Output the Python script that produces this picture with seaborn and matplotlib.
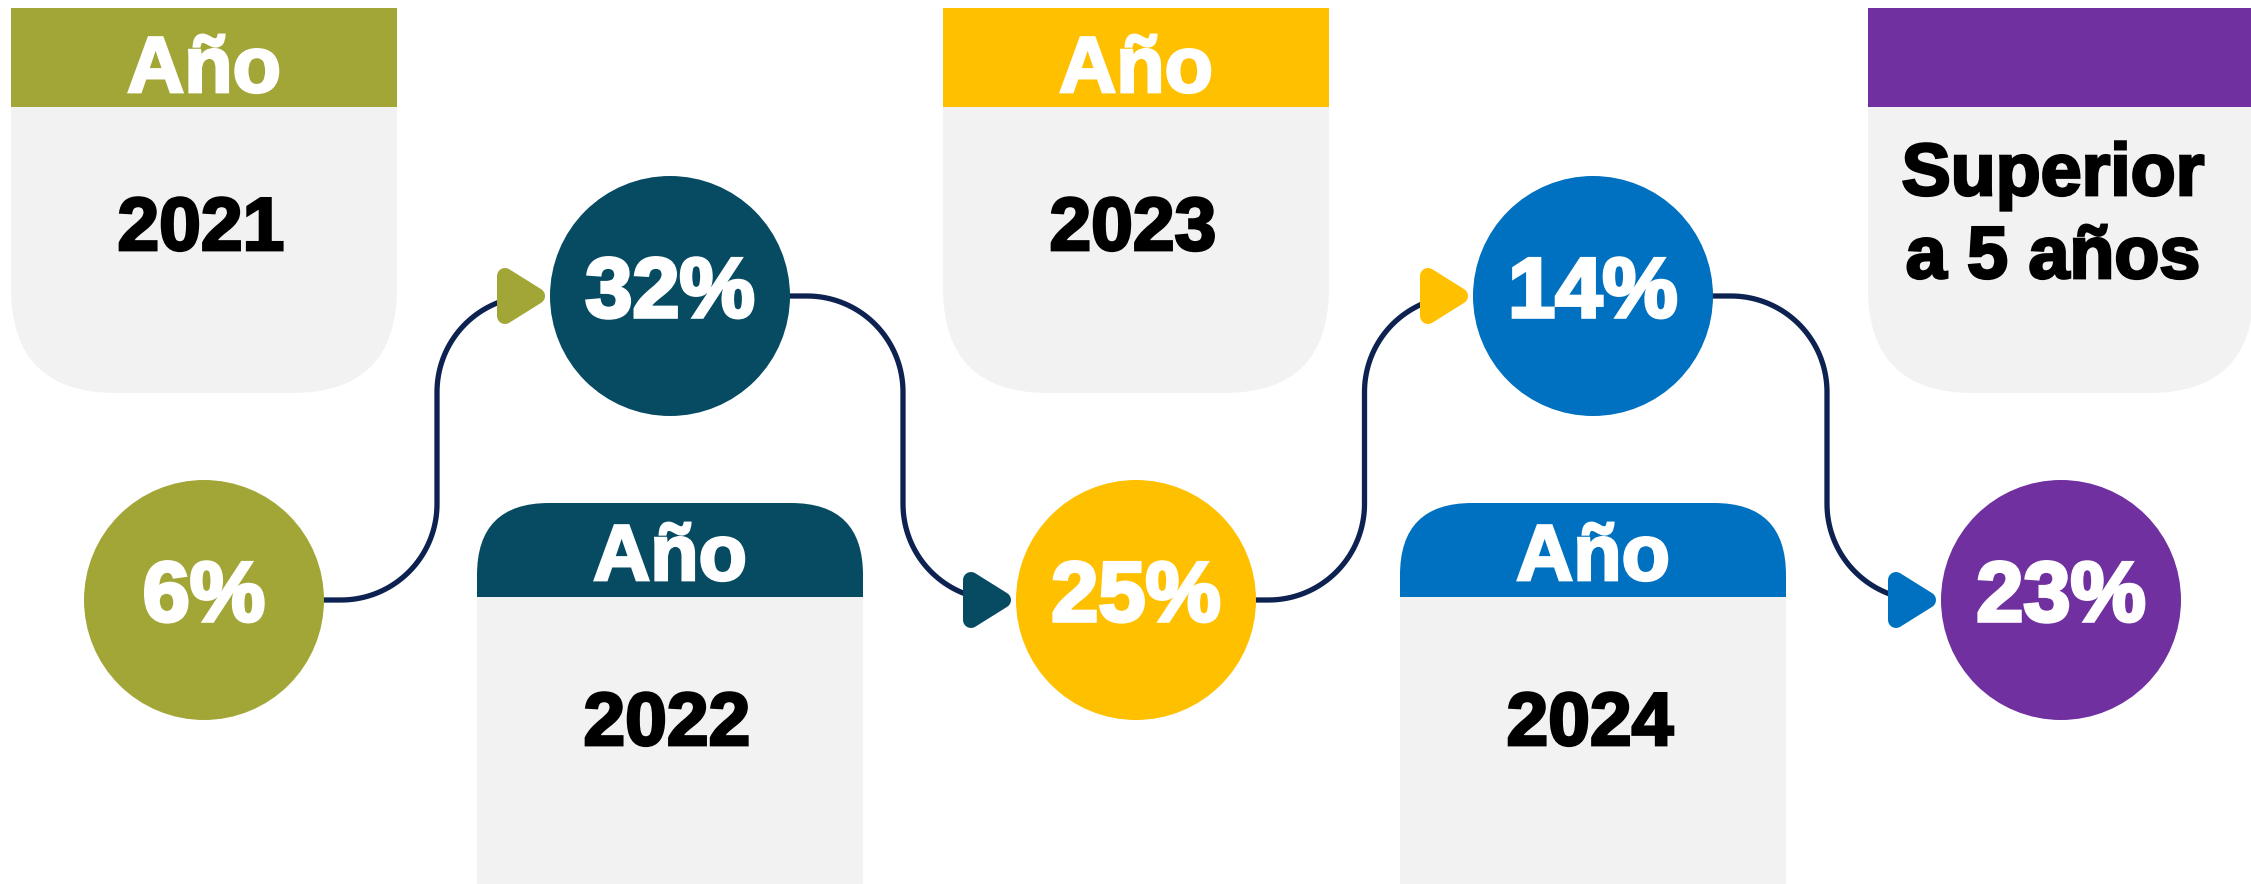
import numpy as np
import pandas as pd
import matplotlib
matplotlib.use("Agg")
import matplotlib.pyplot as plt
import matplotlib.patheffects as pe
from matplotlib.patches import FancyBboxPatch, Rectangle, Polygon
import seaborn as sns

# ---- data ----
percentages = [6, 32, 25, 14, 23]
periods = ["2021", "2022", "2023", "2024", "Superior\na 5 años"]
headers = ["Año", "Año", "Año", "Año", ""]
colors = ["#A2A637", "#074B63", "#FFC000", "#0070C0", "#7030A0"]

# ---- layout ----
W, H = 2251, 884
circle_x = [204, 670, 1136, 1593, 2061]
circle_y = [600, 296, 600, 296, 600]
R = 120
box_w = 386
line_col = "#0D2251"
gray = "#F2F2F2"
FONT = "Liberation Sans"

sns.set_theme(style="white")
plt.rcParams["font.family"] = [FONT, "DejaVu Sans"]

fig = plt.figure(figsize=(W / 100, H / 100), dpi=100)
ax = fig.add_axes([0, 0, 1, 1])
ax.set_xlim(0, W)
ax.set_ylim(H, 0)
ax.axis("off")

def heavy(lw, col):
    return [pe.withStroke(linewidth=lw, foreground=col, joinstyle="miter")]

def rounded_triangle(verts, rr, n=24):
    pts = []
    for vx, vy in verts:
        t = np.linspace(0, 2 * np.pi, n, endpoint=False)
        pts.extend(zip(vx + rr * np.cos(t), vy + rr * np.sin(t)))
    pts = sorted(set(pts))
    def cross(o, a, b):
        return (a[0] - o[0]) * (b[1] - o[1]) - (a[1] - o[1]) * (b[0] - o[0])
    lower, upper = [], []
    for p in pts:
        while len(lower) >= 2 and cross(lower[-2], lower[-1], p) <= 0:
            lower.pop()
        lower.append(p)
    for p in reversed(pts):
        while len(upper) >= 2 and cross(upper[-2], upper[-1], p) <= 0:
            upper.pop()
        upper.append(p)
    return lower[:-1] + upper[:-1]

# ---- boxes ----
for i, (cx, cy) in enumerate(zip(circle_x, circle_y)):
    x0 = cx - box_w / 2
    if cy > 400:  # box on top row
        body = FancyBboxPatch((x0, 8), box_w, 385, boxstyle="round,pad=0,rounding_size=105",
                              fc=gray, ec="none", zorder=1)
        ax.add_patch(body)
        ax.add_patch(Rectangle((x0, 8), box_w, 99, fc=colors[i], ec="none", zorder=2))
        head_base, year_base = 92, 250
    else:  # box on bottom row
        head = FancyBboxPatch((x0, 503), box_w, 600, boxstyle="round,pad=0,rounding_size=72",
                              fc=colors[i], ec="none", zorder=1)
        ax.add_patch(head)
        ax.add_patch(Rectangle((x0, 597), box_w, 400, fc=gray, ec="none", zorder=2))
        head_base, year_base = 580, 745
    if headers[i]:
        ax.text(cx, head_base, headers[i], ha="center", va="baseline", color="white",
                fontsize=57, fontweight="bold", zorder=5, path_effects=heavy(2.0, "white"))
    if "\n" in periods[i]:
        l1, l2 = periods[i].split("\n")
        ax.text(cx - 8, 195, l1, ha="center", va="baseline", color="black",
                fontsize=53, fontweight="bold", zorder=5, path_effects=heavy(2.0, "black"))
        ax.text(cx - 8, 278, l2, ha="center", va="baseline", color="black",
                fontsize=53, fontweight="bold", zorder=5, path_effects=heavy(2.0, "black"))
    else:
        ax.text(cx - 3, year_base, periods[i], ha="center", va="baseline", color="black",
                fontsize=54, fontweight="bold", zorder=5, path_effects=heavy(2.0, "black"))

# ---- connectors ----
r = 96
for i in range(len(circle_x) - 1):
    cx0, cy0, cx1, cy1 = circle_x[i], circle_y[i], circle_x[i + 1], circle_y[i + 1]
    s = np.sign(cy1 - cy0)
    m = (cx0 + cx1) / 2
    t1 = np.radians(np.linspace(-s * 90, 0, 40))
    a1x = (m - r) + r * np.cos(t1)
    a1y = (cy0 + s * r) + r * np.sin(t1)
    t2 = np.radians(np.linspace(180, 180 - s * 90, 40))
    a2x = (m + r) + r * np.cos(t2)
    a2y = (cy1 - s * r) + r * np.sin(t2)
    xs = np.concatenate([[cx0 + R - 5], a1x, a2x, [cx1 - R - 20]])
    ys = np.concatenate([[cy0], a1y, a2y, [cy1]])
    ax.plot(xs, ys, color=line_col, lw=3.8, zorder=3, solid_capstyle="butt")
    edge = cx1 - R
    shape = rounded_triangle([(edge - 45, cy1 - 20), (edge - 45, cy1 + 20), (edge - 13, cy1)], 8)
    ax.add_patch(Polygon(shape, closed=True, fc=colors[i], ec="none", zorder=4))

# ---- circles ----
df = pd.DataFrame({"x": circle_x, "y": circle_y, "period": periods, "pct": percentages})
diam_pt = 2 * R * 72 / 100
sns.scatterplot(data=df, x="x", y="y", hue="period", palette=colors, s=diam_pt ** 2,
                linewidth=0, legend=False, ax=ax, zorder=6)
ax.set_xlim(0, W)
ax.set_ylim(H, 0)
ax.axis("off")

for cx, cy, p in zip(circle_x, circle_y, percentages):
    ax.text(cx, cy + 21, f"{p}%", ha="center", va="baseline", color="white",
            fontsize=61, fontweight="bold", zorder=7, path_effects=heavy(2.6, "white"))

fig.savefig("out.png", dpi=100)
